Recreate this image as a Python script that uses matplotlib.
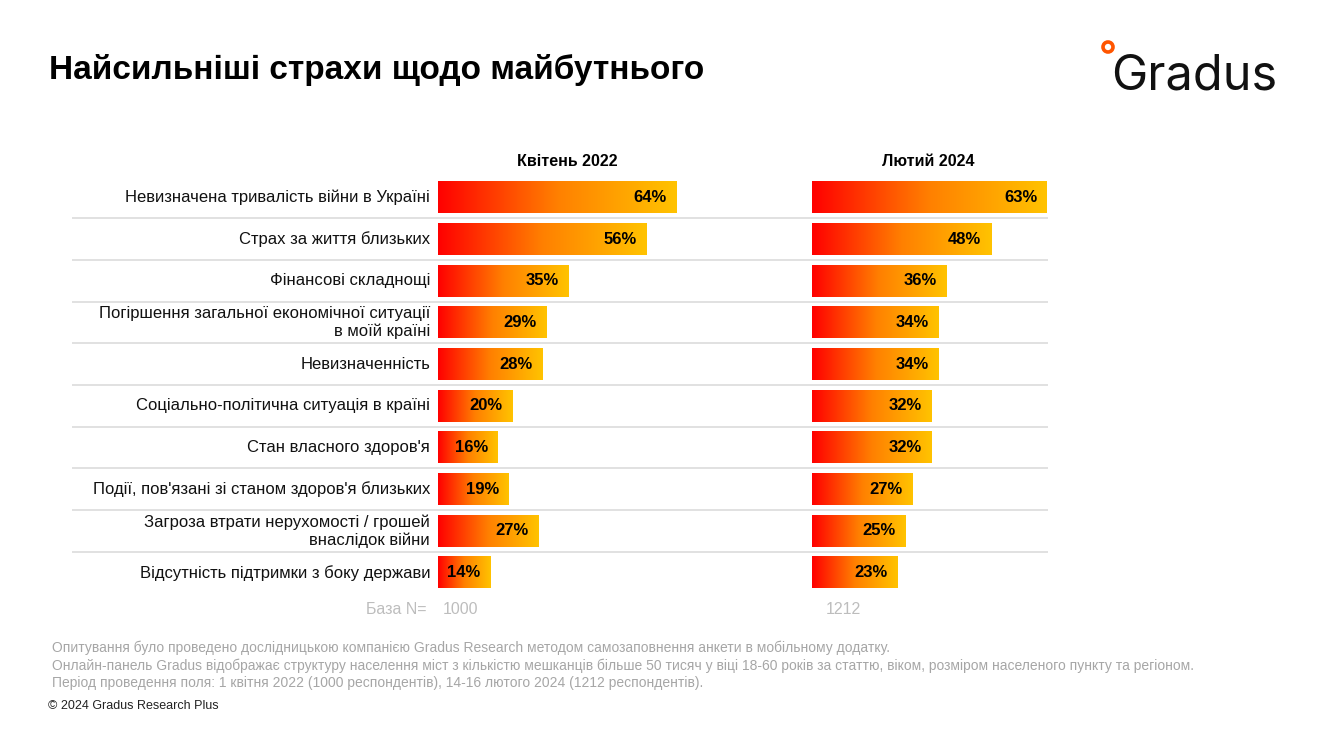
import matplotlib
matplotlib.use("Agg")
import matplotlib.pyplot as plt
import matplotlib.transforms as mtransforms
from matplotlib.colors import LinearSegmentedColormap
from matplotlib.patches import Circle
import numpy as np

plt.rcParams["font.family"] = ["Liberation Sans", "DejaVu Sans"]

CATEGORIES = [
    "Невизначена тривалість війни в Україні",
    "Страх за життя близьких",
    "Фінансові складнощі",
    "Погіршення загальної економічної ситуації\nв моїй країні",
    "Невизначенність",
    "Соціально-політична ситуація в країні",
    "Стан власного здоров'я",
    "Події, пов'язані зі станом здоров'я близьких",
    "Загроза втрати нерухомості / грошей\nвнаслідок війни",
    "Відсутність підтримки з боку держави",
]
APR_2022 = [64, 56, 35, 29, 28, 20, 16, 19, 27, 14]
FEB_2024 = [63, 48, 36, 34, 34, 32, 32, 27, 25, 23]
PERIODS = ["Квітень 2022", "Лютий 2024"]
BASES = ["1000", "1212"]

FOOTNOTES = [
    "Опитування було проведено дослідницькою компанією Gradus Research методом самозаповнення анкети в мобільному додатку.",
    "Онлайн-панель Gradus відображає структуру населення міст з кількістю мешканців більше 50 тисяч у віці 18-60 років за статтю, віком, розміром населеного пункту та регіоном.",
    "Період проведення поля: 1 квітня 2022 (1000 респондентів), 14-16 лютого 2024 (1212 респондентів).",
]

W, H = 1323, 736
fig = plt.figure(figsize=(W / 100, H / 100), dpi=100)


def px_axes(x0, y0, w, h):
    # axes box given in pixel coords measured from the top-left corner
    return fig.add_axes([x0 / W, 1 - (y0 + h) / H, w / W, h / H])


def fx(x):
    return x / W


def fy(y):
    return 1 - y / H


n = len(CATEGORIES)
row_top, row_h = 176.5, 41.7
grad = LinearSegmentedColormap.from_list("fear", ["#FF0000", "#FF8000", "#FFC300"])
ramp = np.linspace(0, 1, 256).reshape(1, -1)

# separator lines behind everything
bg = px_axes(72, row_top, 976, row_h * n)
bg.set_xlim(0, 1)
bg.set_ylim(n - 0.5, -0.5)
bg.hlines(np.arange(n - 1) + 0.5, 0, 1, color="#DCDCDC", lw=1.2)
bg.axis("off")

axes = [px_axes(438, row_top, 373, row_h * n), px_axes(812, row_top, 373, row_h * n)]
bar_h = 0.76
for ax, values in zip(axes, [APR_2022, FEB_2024]):
    for i, v in enumerate(values):
        ax.imshow(ramp, cmap=grad, aspect="auto",
                  extent=(0, v, i + bar_h / 2, i - bar_h / 2), zorder=2)
        ax.annotate(f"{v}%", xy=(v, i), xytext=(-7, 0), textcoords="offset points",
                    ha="right", va="center", fontsize=12, fontweight="bold", zorder=3)
    ax.set_xlim(0, 100)
    ax.set_ylim(n - 0.5, -0.5)
    ax.axis("off")

# column headers and bases
fig.text(fx(567), fy(161), PERIODS[0], ha="center", va="center", fontsize=11.5, fontweight="bold")
fig.text(fx(928), fy(161), PERIODS[1], ha="center", va="center", fontsize=11.5, fontweight="bold")
fig.text(fx(426), fy(609), "База N=", ha="right", va="center", fontsize=11.5, color="#BDBDBD")
fig.text(fx(443), fy(609), BASES[0], ha="left", va="center", fontsize=11.5, color="#BDBDBD")
fig.text(fx(826), fy(609), BASES[1], ha="left", va="center", fontsize=11.5, color="#BDBDBD")

# category labels
lab_tr = mtransforms.blended_transform_factory(fig.transFigure, axes[0].transData)
for i, cat in enumerate(CATEGORIES):
    fig.text(fx(430), i, cat, transform=lab_tr, ha="right", va="center",
             multialignment="right", fontsize=12, color="#111111")

# title
fig.text(fx(49), fy(70), "Найсильніші страхи щодо майбутнього", ha="left", va="center",
         fontsize=24, fontweight="bold")

# logo
fig.text(fx(1111), fy(89), "Gradus", ha="left", va="baseline", fontsize=35,
         family=["Inter", "DejaVu Sans"], color="#111111")
fig.patches.append(Circle((1108 / 100, (H - 47) / 100), 0.05, fill=False, lw=2.6,
                          edgecolor="#FF5500", transform=fig.dpi_scale_trans))

# footnotes
for k, line in enumerate(FOOTNOTES):
    fig.text(fx(52), fy(648 + 17.5 * k), line, ha="left", va="center",
             fontsize=10, color="#A6A6A6")
fig.text(fx(48), fy(706), "© 2024 Gradus Research Plus", ha="left", va="center",
         fontsize=9, color="#222222")

fig.savefig("out.png", dpi=100)
